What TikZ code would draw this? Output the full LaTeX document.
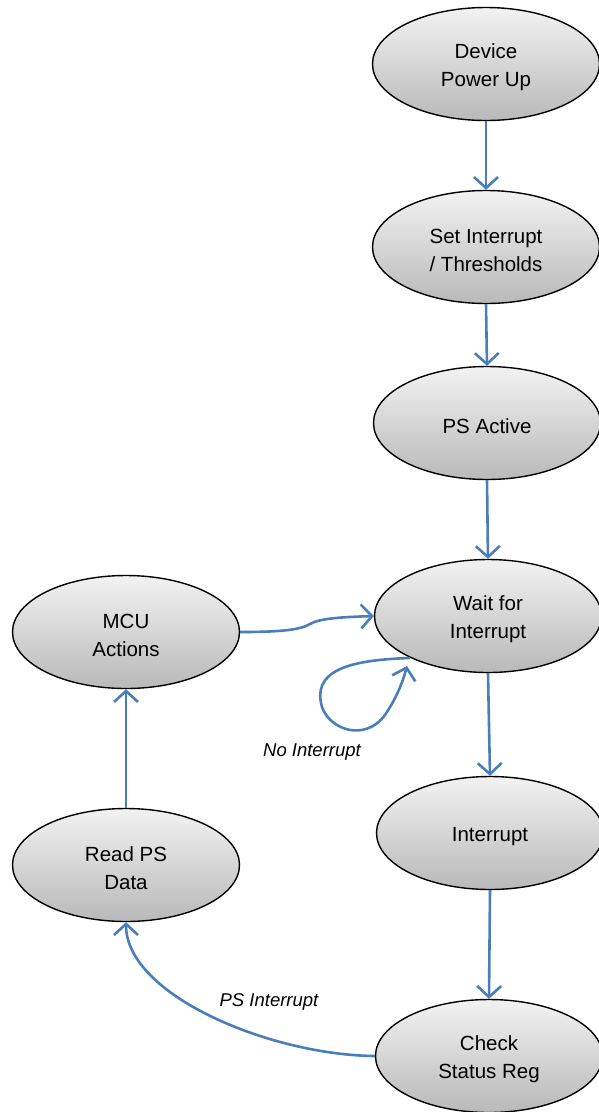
\documentclass[tikz,border=0pt]{standalone}
\usepackage{fontspec}
\setmainfont{Liberation Sans}
\usetikzlibrary{shapes.geometric,arrows.meta}
\definecolor{arrblue}{RGB}{74,126,187}
\definecolor{shtop}{RGB}{242,242,242}
\definecolor{shbot}{RGB}{185,185,185}
\newcommand\txtup{\rule{0pt}{22pt}}
\begin{document}
\begin{tikzpicture}[x=1pt,y=-1pt,
  state/.style={ellipse, draw=black, line width=1.4pt, minimum width=227pt, minimum height=113pt,
    inner sep=0pt, top color=shtop, bottom color=shbot, align=center,
    font=\fontsize{20.5}{28}\selectfont},
  arr/.style={draw=arrblue, line width=2.6pt, -{Straight Barb[length=11pt,width=24pt]}},
  lbl/.style={font=\fontsize{18.5}{20}\selectfont\itshape}]
\useasboundingbox (0,0) rectangle (598,1112);
\node[state] (dpu) at (486,64) {\txtup Device\\Power Up};
\node[state] (sit) at (486,247) {\txtup Set Interrupt\\/ Thresholds};
\node[state] (psa) at (487,423) {\txtup PS Active};
\node[state] (wfi) at (488,616) {\txtup Wait for\\Interrupt};
\node[state] (intr) at (490,833) {\txtup Interrupt};
\node[state] (csr) at (489,1056) {\txtup Check\\Status Reg};
\node[state] (mcu) at (126,632) {\txtup MCU\\Actions};
\node[state] (rpd) at (126,865) {\txtup Read PS\\Data};
\coordinate (ls) at (410,658);
\coordinate (le) at (407,666);
\draw[arr] (dpu.south) -- (sit.north);
\draw[arr] (sit.south) -- (psa.north);
\draw[arr] (psa.south) -- (wfi.north);
\draw[arr] (wfi.south) -- (intr.north);
\draw[arr] (intr.south) -- (csr.north);
\draw[arr] (csr.west) .. controls (270,1055) and (126,995) .. (rpd.south);
\draw[arr] (rpd.north) -- (mcu.south);
\draw[arr] (mcu.east) .. controls (280,632) and (300,630) .. (310,624) .. controls (320,618) and (345,617) .. (wfi.west);
\draw[arr] (ls) .. controls (345,660) and (312,672) .. (322,707) .. controls (330,730) and (365,742) .. (385,715) .. controls (395,700) and (402,685) .. (le);
\node[lbl] (l1) at (312,752) {No Interrupt};
\node[lbl] (l2) at (269,1002) {PS Interrupt};
\end{tikzpicture}
\end{document}
